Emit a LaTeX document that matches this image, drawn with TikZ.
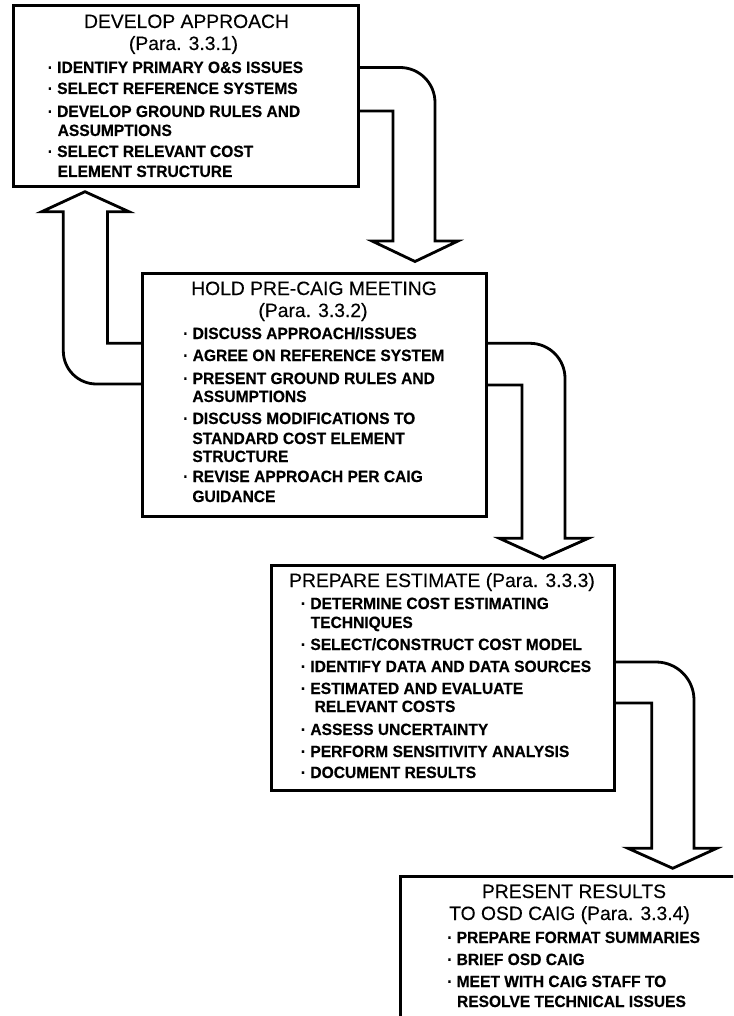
\documentclass[tikz,border=0pt]{standalone}
\usepackage{fontspec}
\setmainfont{Liberation Sans}
\newfontfamily\itmfont[FakeStretch=0.955,FakeBold=0.4]{Liberation Sans}
\newfontfamily\ttlfont[FakeBold=0.25]{Liberation Sans}
\pgfdeclarelayer{bg}
\pgfsetlayers{bg,main}
\begin{document}
\begin{tikzpicture}[x=1pt,y=-1pt,
  box/.style={draw, line width=3pt, rectangle, inner sep=0pt, fill=white},
  blk/.style={draw, line width=2.8pt, fill=white, line join=miter},
  ttl/.style={font=\ttlfont\fontsize{19.3}{23}\selectfont, anchor=base, inner sep=0pt},
  itm/.style={font=\itmfont\fontsize{16.3}{18}\selectfont\bfseries, anchor=base west, inner sep=0pt}]
\useasboundingbox (0,0) rectangle (733,1016);
\clip (0,0) rectangle (733,1016);

% boxes
\node[box, minimum width=344.7pt, minimum height=181.3pt] (b1) at (185.65,96.35) {};
\node[box, minimum width=343.5pt, minimum height=243pt] (b2) at (314.25,394.5) {};
\node[box, minimum width=343.7pt, minimum height=225pt] (b3) at (442.85,678) {};
\node[box, minimum width=344pt, minimum height=153pt] (b4) at (572.5,953) {};

% block arrows
\begin{pgfonlayer}{bg}
\draw[blk] (b1.east |- 0,67.5) -- (400,67.5) .. controls (419.3,67.5) and (435,83.2) .. (435,102.5)
  -- (435,241) -- (458,241) -- (415,261.5) -- (372,241) -- (393,241) -- (393,111) -- (b1.east |- 0,111);
\draw[blk] (b2.west |- 0,343.3) -- (107.5,343.3) -- (107.5,211.7) -- (129,211.7) -- (85,191.7)
  -- (41.7,211.7) -- (63.3,211.7) -- (63.3,351) .. controls (63.3,369.2) and (78.1,384) .. (96.3,384)
  -- (b2.west |- 0,384);
\draw[blk] (b2.east |- 0,343.3) -- (530,343.3) .. controls (549.3,343.3) and (565,359) .. (565,378.3)
  -- (565,538.3) -- (588.3,538.3) -- (543.3,558.3) -- (499.3,538.3) -- (522,538.3) -- (522,385) -- (b2.east |- 0,385);
\draw[blk] (b3.east |- 0,662) -- (656,662) .. controls (677,662) and (694,679) .. (694,700)
  -- (694,848.3) -- (716.7,848.3) -- (672.7,868.3) -- (628,848.3) -- (651.7,848.3) -- (651.7,703) -- (b3.east |- 0,703);
\end{pgfonlayer}

% box 1 text
\node[ttl] (t1a) at (186.5,28) {DEVELOP APPROACH};
\node[ttl] (t1b) at (183.5,50) {(Para. 3.3.1)};
\node[itm] (i1a) at (47.5,73) {· IDENTIFY PRIMARY O\&S ISSUES};
\node[itm] (i1b) at (47.5,94) {· SELECT REFERENCE SYSTEMS};
\node[itm] (i1c) at (47.5,117) {· DEVELOP GROUND RULES AND};
\node[itm] (i1d) at (57.5,136) {ASSUMPTIONS};
\node[itm] (i1e) at (47.5,157) {· SELECT RELEVANT COST};
\node[itm] (i1f) at (57.5,177) {ELEMENT STRUCTURE};

% box 2 text
\node[ttl] (t2a) at (314,295) {HOLD PRE-CAIG MEETING};
\node[ttl] (t2b) at (313,317) {(Para. 3.3.2)};
\node[itm] (i2a) at (183,339) {· DISCUSS APPROACH/ISSUES};
\node[itm] (i2b) at (183,361) {· AGREE ON REFERENCE SYSTEM};
\node[itm] (i2c) at (183,384) {· PRESENT GROUND RULES AND};
\node[itm] (i2d) at (192.2,402) {ASSUMPTIONS};
\node[itm] (i2e) at (183,424) {· DISCUSS MODIFICATIONS TO};
\node[itm] (i2f) at (192.2,444) {STANDARD COST ELEMENT};
\node[itm] (i2g) at (192.2,462) {STRUCTURE};
\node[itm] (i2h) at (183,482) {· REVISE APPROACH PER CAIG};
\node[itm] (i2i) at (192.2,502) {GUIDANCE};

% box 3 text
\node[ttl] (t3) at (442,587) {PREPARE ESTIMATE (Para. 3.3.3)};
\node[itm] (i3a) at (300.7,609) {· DETERMINE COST ESTIMATING};
\node[itm] (i3b) at (310.5,628) {TECHNIQUES};
\node[itm] (i3c) at (300.7,650) {· SELECT/CONSTRUCT COST MODEL};
\node[itm] (i3d) at (300.7,672) {· IDENTIFY DATA AND DATA SOURCES};
\node[itm] (i3e) at (300.7,694) {· ESTIMATED AND EVALUATE};
\node[itm] (i3f) at (314.5,712) {RELEVANT COSTS};
\node[itm] (i3g) at (300.7,735) {· ASSESS UNCERTAINTY};
\node[itm] (i3h) at (300.7,757) {· PERFORM SENSITIVITY ANALYSIS};
\node[itm] (i3i) at (300.7,778) {· DOCUMENT RESULTS};

% box 4 text
\node[ttl] (t4a) at (574,898) {PRESENT RESULTS};
\node[ttl] (t4b) at (569.5,920) {TO OSD CAIG (Para. 3.3.4)};
\node[itm] (i4a) at (447,943) {· PREPARE FORMAT SUMMARIES};
\node[itm] (i4b) at (447,965) {· BRIEF OSD CAIG};
\node[itm] (i4c) at (447,987) {· MEET WITH CAIG STAFF TO};
\node[itm] (i4d) at (456.8,1007) {RESOLVE TECHNICAL ISSUES};
\end{tikzpicture}
\end{document}
